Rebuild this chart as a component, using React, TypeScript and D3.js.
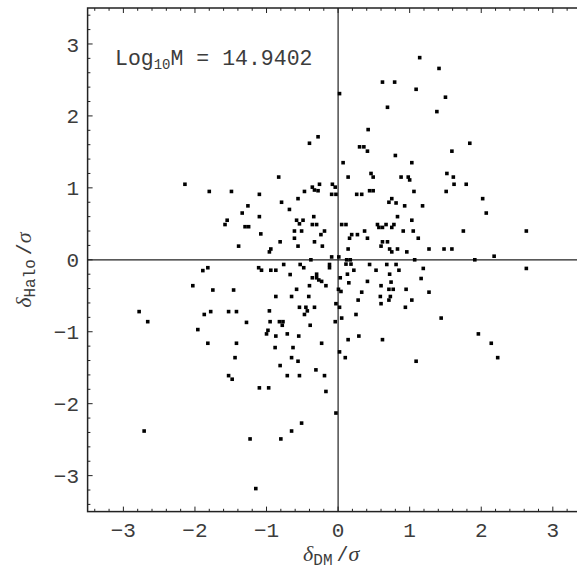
import React from 'react';
import * as d3 from 'd3';

// δ_DM / σ  (x values)
const deltaDM: number[] = [
  1.14, 1.41, 0.62, 0.79, 0.02, 1.09, 1.50, 0.69, 1.38, 0.42,
  1.84, -0.40, -0.28, 0.30, 0.36, 0.41, 1.59, 0.80, 0.07, 1.03,
  0.46, 1.52, 0.49, 1.61, 0.14, -0.83, 0.88, 0.98, 1.00, -2.14,
  -0.26, -0.08, 1.62, 1.79, -0.36, -0.04, -1.80, -1.49, -0.47, -0.33,
  -0.28, 0.44, 0.49, 1.06, 1.51, -1.10, -0.09, -0.03, 0.26, 0.33,
  2.02, -0.56, 0.75, 0.71, 0.81, -0.79, -1.26, 0.93, 1.18, -0.68,
  -1.34, 2.07, -1.10, -0.34, 0.83, -1.55, -0.58, -0.49, 1.03, -1.58,
  -0.54, -0.36, -0.30, 0.05, 0.11, 0.55, 0.67, 0.78, 0.57, 0.62,
  0.75, -1.30, -1.25, 2.63, 1.75, -0.61, -0.51, -0.19, 0.37, 0.91,
  1.05, -1.08, -0.24, 0.19, 0.27, 0.16, -0.61, 0.41, 1.12, -0.81,
  -0.33, 0.62, 0.69, -1.39, -0.56, -0.22, 0.60, 0.72, 0.83, 1.27,
  1.48, 1.59, 0.14, -0.94, -0.96, 0.75, 0.96, -0.09, 0.01, 2.18,
  1.91, 1.07, -0.38, 0.12, 0.17, 0.11, 0.18, -0.12, -0.12, -0.76,
  -0.53, -0.48, -1.11, -1.07, -0.94, -0.87, -0.67, 0.44, 0.68, 0.81,
  0.22, 0.53, 0.85, 0.72, 0.13, 0.03, -0.30, -0.30, -0.36, -0.27,
  -0.23, -0.17, -1.82, -1.89, 1.19, 2.63, 1.16, 0.74, -2.03, -1.75,
  -1.46, -0.40, -0.58, 0.005, 0.04, 0.15, 0.41, 0.60, 0.71, 0.77,
  0.95, 1.27, 0.33, 0.59, 0.73, 0.71, 0.28, 1.03, -0.41, -0.65,
  -0.87, -0.03, 0.02, 0.60, 0.94, 0.05, -0.04, 0.25, -0.39, -0.54,
  -0.45, -0.33, -0.47, -0.43, -0.96, -0.82, -0.77, -0.78, -0.98, -1.00,
  -0.95, -1.28, -2.78, -2.66, -1.87, -1.78, -1.53, -1.42, -1.96, 1.44,
  -0.71, -0.87, -0.55, 0.14, 0.29, 0.62, -0.23, -1.82, -1.42, -1.44,
  -0.88, -0.63, 0.02, 0.10, -0.65, -0.56, -0.81, -0.31, 1.96, 2.14,
  2.23, 1.09, -1.53, -1.48, -0.71, -0.54, -0.19, -1.10, -0.97, -0.17,
  -0.03, -0.51, -0.65, -1.23, -0.80, -1.15, -2.71,
];

// δ_Halo / σ  (y values)
const deltaHalo: number[] = [
  2.81, 2.66, 2.47, 2.47, 2.31, 2.37, 2.26, 2.12, 2.06, 1.81,
  1.62, 1.62, 1.71, 1.57, 1.57, 1.51, 1.51, 1.45, 1.35, 1.35,
  1.20, 1.20, 1.15, 1.15, 1.15, 1.15, 1.15, 1.15, 1.11, 1.05,
  1.05, 1.05, 1.05, 1.05, 1.01, 1.01, 0.95, 0.95, 0.95, 0.97,
  0.96, 0.96, 0.96, 0.95, 0.95, 0.91, 0.91, 0.91, 0.91, 0.91,
  0.85, 0.85, 0.85, 0.80, 0.79, 0.80, 0.75, 0.75, 0.75, 0.70,
  0.65, 0.65, 0.60, 0.60, 0.60, 0.55, 0.55, 0.55, 0.55, 0.49,
  0.50, 0.49, 0.49, 0.49, 0.49, 0.49, 0.49, 0.49, 0.45, 0.45,
  0.45, 0.46, 0.46, 0.40, 0.40, 0.40, 0.40, 0.40, 0.40, 0.40,
  0.40, 0.36, 0.35, 0.35, 0.35, 0.30, 0.30, 0.30, 0.30, 0.25,
  0.25, 0.25, 0.25, 0.19, 0.19, 0.19, 0.19, 0.15, 0.15, 0.15,
  0.15, 0.15, 0.15, 0.15, 0.11, 0.11, 0.11, 0.04, 0.04, 0.05,
  0.00, 0.00, 0.00, 0.00, 0.00, -0.06, -0.06, -0.065, -0.11, -0.065,
  -0.065, -0.11, -0.11, -0.145, -0.145, -0.145, -0.205, -0.065, -0.065, -0.065,
  -0.145, -0.145, -0.145, -0.20, -0.20, -0.25, -0.20, -0.25, -0.25, -0.28,
  -0.30, -0.36, -0.11, -0.15, -0.12, -0.12, -0.26, -0.31, -0.36, -0.42,
  -0.42, -0.36, -0.41, -0.41, -0.44, -0.32, -0.30, -0.36, -0.41, -0.41,
  -0.41, -0.45, -0.45, -0.51, -0.51, -0.56, -0.56, -0.56, -0.51, -0.51,
  -0.51, -0.61, -0.66, -0.61, -0.66, -0.81, -0.86, -0.76, -0.91, -0.66,
  -0.66, -0.66, -0.76, -0.71, -0.71, -0.86, -0.86, -0.91, -0.98, -1.03,
  -0.86, -0.87, -0.72, -0.86, -0.76, -0.72, -0.72, -0.72, -0.97, -0.81,
  -1.03, -1.06, -1.06, -1.11, -1.06, -1.11, -1.16, -1.16, -1.16, -1.36,
  -1.22, -1.22, -1.28, -1.36, -1.36, -1.41, -1.47, -1.53, -1.03, -1.16,
  -1.36, -1.41, -1.61, -1.66, -1.61, -1.61, -1.61, -1.78, -1.78, -1.83,
  -2.13, -2.27, -2.38, -2.49, -2.49, -3.18, -2.38,
];

const xTickValues = [-3, -2, -1, 0, 1, 2, 3];
const yTickValues = [-3, -2, -1, 0, 1, 2, 3];
const minorTickValues = d3.range(-34, 35, 2).map((v) => v / 10);
const massLabelPrefix = 'Log';
const massLabelSub = '10';
const massLabelValue = 'M = 14.9402';

const MONO = "'Liberation Mono', 'Courier New', monospace";
const SERIF = "'Liberation Serif', 'Times New Roman', serif";
const INK = '#222';
const TEXT = '#3c3c3c';

export default function App() {
  const W = 577;
  const H = 571;
  const x = d3.scaleLinear().domain([-3.5, 3.5]).range([87.6, 588.6]);
  const y = d3.scaleLinear().domain([-3.5, 3.5]).range([511.6, 8]);
  const [x0, x1] = x.range();
  const [yB, yT] = y.range();
  const fmt = (v: number) => (v < 0 ? '\u2212' : '') + Math.abs(v);
  const isMajor = (v: number) => Math.abs(v - Math.round(v)) < 1e-6;
  const pts = deltaDM.map((d, i) => [d, deltaHalo[i]] as [number, number]);
  const sq = 3.6;

  return (
    <svg
      width={W}
      height={H}
      viewBox={`0 0 ${W} ${H}`}
      style={{ position: 'absolute', left: 0, top: 0, background: '#fff' }}
    >
      <rect x={0} y={0} width={W} height={H} fill="#fff" />
      {/* zero lines */}
      <line x1={x(0)} x2={x(0)} y1={yT} y2={yB} stroke={INK} strokeWidth={1.2} />
      <line x1={x0} x2={x1} y1={y(0)} y2={y(0)} stroke={INK} strokeWidth={1.2} />

      {/* ticks */}
      {minorTickValues.map((v) => {
        const len = isMajor(v) ? 5 : 2.8;
        return (
          <g key={'t' + v} stroke={INK} strokeWidth={1}>
            <line x1={x(v)} x2={x(v)} y1={yB} y2={yB - len} />
            <line x1={x(v)} x2={x(v)} y1={yT} y2={yT + len} />
            <line x1={x0} x2={x0 + len} y1={y(v)} y2={y(v)} />
            <line x1={x1} x2={x1 - len} y1={y(v)} y2={y(v)} />
          </g>
        );
      })}

      {/* frame */}
      <rect x={x0} y={yT} width={x1 - x0} height={yB - yT} fill="none" stroke={INK} strokeWidth={1.5} />

      {/* points */}
      {pts.map(([a, b], i) => (
        <rect key={i} x={x(a) - sq / 2} y={y(b) - sq / 2} width={sq} height={sq} fill="#000" />
      ))}

      {/* tick labels */}
      {xTickValues.map((v) => (
        <text key={'xl' + v} x={x(v)} y={537} textAnchor="middle" fontFamily={MONO} fontSize={21} fill={TEXT}>
          {fmt(v)}
        </text>
      ))}
      {yTickValues.map((v) => (
        <text key={'yl' + v} x={79} y={y(v)} dy="0.36em" textAnchor="end" fontFamily={MONO} fontSize={21} fill={TEXT}>
          {fmt(v)}
        </text>
      ))}

      {/* mass label */}
      <text x={115} y={65} fontFamily={MONO} fontSize={21.5} fill={TEXT}>
        {massLabelPrefix}
        <tspan fontSize={14} dy={4}>{massLabelSub}</tspan>
        <tspan dy={-4}>{massLabelValue}</tspan>
      </text>

      {/* x axis title */}
      <text x={x(0) - 35} y={561} fill={TEXT}>
        <tspan fontFamily={SERIF} fontStyle="italic" fontSize={22}>δ</tspan>
        <tspan fontFamily={MONO} fontSize={16} dy={4}>DM</tspan>
        <tspan fontFamily={MONO} fontSize={20} dy={-4} dx={4}>/</tspan>
        <tspan fontFamily={SERIF} fontStyle="italic" fontSize={22}>σ</tspan>
      </text>

      {/* y axis title */}
      <text transform={`translate(31, ${y(0) + 48}) rotate(-90)`} fill={TEXT}>
        <tspan fontFamily={SERIF} fontStyle="italic" fontSize={22}>δ</tspan>
        <tspan fontFamily={MONO} fontSize={16} dy={4}>Halo</tspan>
        <tspan fontFamily={MONO} fontSize={20} dy={-4} dx={4}>/</tspan>
        <tspan fontFamily={SERIF} fontStyle="italic" fontSize={22}>σ</tspan>
      </text>
    </svg>
  );
}
